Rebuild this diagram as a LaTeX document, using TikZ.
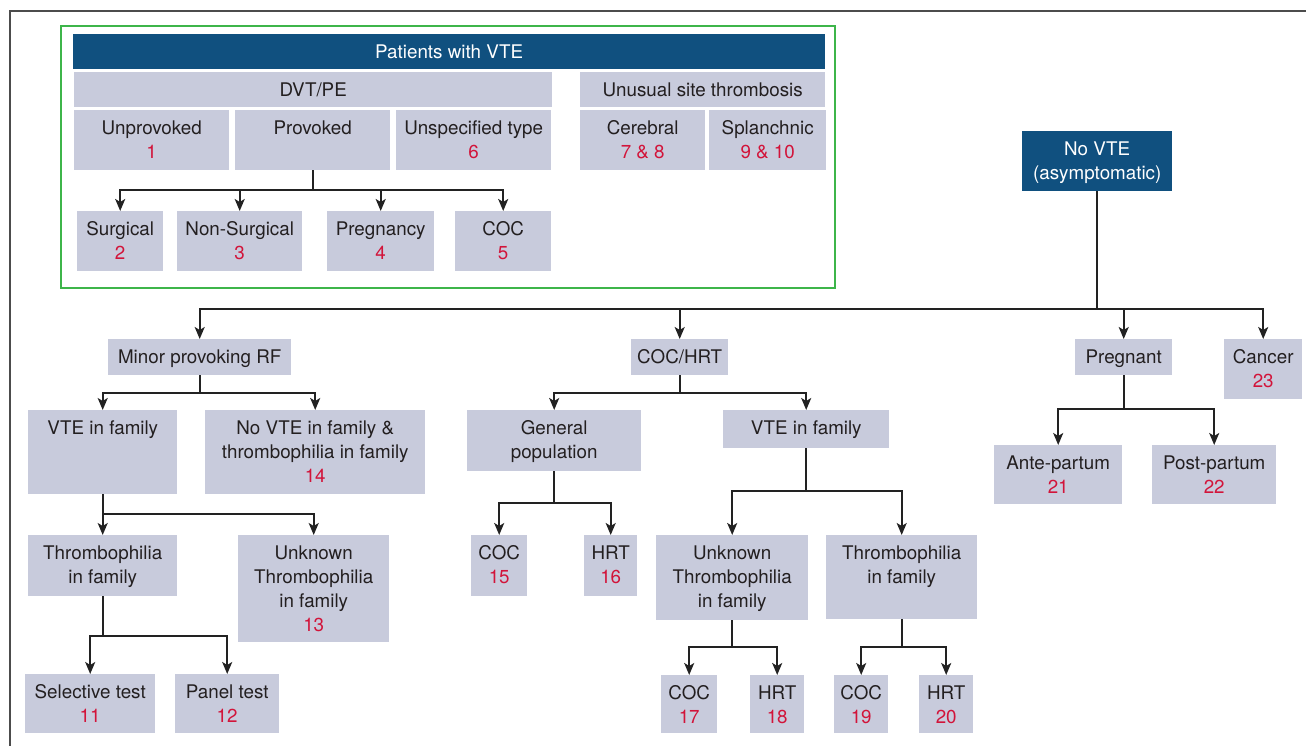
\documentclass[tikz,border=0pt]{standalone}
\usepackage{fontspec}
\setmainfont{TeX Gyre Heros}
\usetikzlibrary{arrows.meta}
\definecolor{navy}{HTML}{10507F}
\definecolor{boxfill}{HTML}{C8CBDC}
\definecolor{numred}{HTML}{D2143A}
\definecolor{frgreen}{HTML}{3DB54A}
\definecolor{txtdark}{HTML}{231F20}
\definecolor{linedark}{HTML}{222222}
\tikzset{
  boxs/.style={fill=boxfill, draw=none, inner sep=0pt, anchor=north west},
  navys/.style={fill=navy, draw=none, inner sep=0pt, anchor=north west},
  txts/.style={anchor=north, inner sep=0pt, align=center, text=txtdark,
    font=\fontsize{18.8}{24}\selectfont},
  wtxts/.style={txts, text=white},
  conn/.style={draw=linedark, line width=1.8pt},
  arr/.style={conn, -{Stealth[length=12pt, width=10pt, inset=3pt]}},
}
\newcommand\nm[1]{\textcolor{numred}{#1}}
% name, x, y, w, h, text
\newcommand\gbox[6]{%
  \node[boxs, minimum width=#4, minimum height=#5] (#1) at (#2,#3) {};
  \node[txts] (#1-t) at ([yshift=-7.2pt]#1.north) {\strut #6};}
\newcommand\nbox[6]{%
  \node[navys, minimum width=#4, minimum height=#5] (#1) at (#2,#3) {};
  \node[wtxts] (#1-t) at ([yshift=-7.2pt]#1.north) {\strut #6};}
\begin{document}
\begin{tikzpicture}[x=1pt, y=-1pt]
\useasboundingbox (0,0) rectangle (1306,746);
% outer partial frame
\draw[color=black!70, line width=1.3pt] (10,746) -- (10,11) -- (1306,11);
% green frame
\draw[frgreen, line width=2pt] (61,26) rectangle (835,288);
% top group
\nbox{hdr}{73}{34}{752}{35}{Patients with VTE}
\gbox{dvt}{74}{72}{478}{35}{DVT/PE}
\gbox{usite}{580}{72}{245}{35}{Unusual site thrombosis}
\gbox{unprov}{74}{110}{155}{60}{Unprovoked\\\nm{1}}
\gbox{prov}{235}{110}{155}{60}{Provoked}
\gbox{unspec}{396}{110}{155}{60}{Unspecified type\\\nm{6}}
\gbox{cereb}{580}{110}{125}{60}{Cerebral\\\nm{7 \& 8}}
\gbox{splan}{709}{110}{117}{60}{Splanchnic\\\nm{9 \& 10}}
\gbox{surg}{77}{211}{86}{60}{Surgical\\\nm{2}}
\gbox{nonsurg}{177}{211}{125}{60}{Non-Surgical\\\nm{3}}
\gbox{pregy}{327}{211}{107}{60}{Pregnancy\\\nm{4}}
\gbox{coc5}{455}{211}{96}{60}{COC\\\nm{5}}
% no VTE tree
\nbox{novte}{1022}{131}{150}{60}{No VTE\\(asymptomatic)}
\gbox{minor}{108}{339}{183}{36}{Minor provoking RF}
\gbox{cochrt}{631}{339}{97}{36}{COC/HRT}
\gbox{preg}{1075}{339}{97}{36}{Pregnant}
\gbox{cancer}{1224}{339}{78}{60}{Cancer\\\nm{23}}
\gbox{vtefama}{28}{410}{149}{84}{VTE in family}
\gbox{novtefam}{205}{410}{220}{84}{No VTE in family \&\\thrombophilia in family\\\nm{14}}
\gbox{genpop}{467}{410}{174}{61}{General\\population}
\gbox{vtefamb}{723}{410}{166}{38}{VTE in family}
\gbox{ante}{994}{445}{128}{59}{Ante-partum\\\nm{21}}
\gbox{post}{1152}{445}{124}{59}{Post-partum\\\nm{22}}
\gbox{thromba}{28}{535}{149}{61}{Thrombophilia\\in family}
\gbox{unka}{238}{535}{151}{107}{Unknown\\Thrombophilia\\in family\\\nm{13}}
\gbox{cocxv}{471}{535}{56}{61}{COC\\\nm{15}}
\gbox{hrtxvi}{584}{535}{53}{61}{HRT\\\nm{16}}
\gbox{unkb}{656}{535}{152}{85}{Unknown\\Thrombophilia\\in family}
\gbox{thrombb}{826}{535}{151}{84}{Thrombophilia\\in family}
\gbox{sel}{25}{674}{130}{59}{Selective test\\\nm{11}}
\gbox{panel}{175}{674}{104}{59}{Panel test\\\nm{12}}
\gbox{cocxvii}{661}{675}{56}{58}{COC\\\nm{17}}
\gbox{hrtxviii}{750}{675}{54}{58}{HRT\\\nm{18}}
\gbox{cocxix}{834}{675}{54}{58}{COC\\\nm{19}}
\gbox{hrtxx}{919}{675}{54}{58}{HRT\\\nm{20}}
% bus levels
\coordinate (bprov) at (0,190);
\coordinate (bnovte) at (0,309);
\coordinate (bminor) at (0,393);
\coordinate (bcoc) at (0,393);
\coordinate (bpreg) at (0,409);
\coordinate (bvtea) at (0,514);
\coordinate (bgen) at (0,503);
\coordinate (bvteb) at (0,491);
\coordinate (bthra) at (0,636);
\coordinate (bunkb) at (0,647);
\coordinate (bthrb) at (0,647);
% connectors
\foreach \c in {surg,nonsurg,pregy,coc5}
  \draw[arr] (prov.south) -- (prov.south |- bprov) -| (\c.north);
\foreach \c in {minor,cochrt,preg,cancer}
  \draw[arr] (novte.south) -- (novte.south |- bnovte) -| (\c.north);
\foreach \c in {vtefama,novtefam}
  \draw[arr] (minor.south) -- (minor.south |- bminor) -| (\c.north);
\foreach \c in {genpop,vtefamb}
  \draw[arr] (cochrt.south) -- (cochrt.south |- bcoc) -| (\c.north);
\foreach \c in {ante,post}
  \draw[arr] (preg.south) -- (preg.south |- bpreg) -| (\c.north);
\foreach \c in {thromba,unka}
  \draw[arr] (vtefama.south) -- (vtefama.south |- bvtea) -| (\c.north);
\foreach \c in {cocxv,hrtxvi}
  \draw[arr] (genpop.south) -- (genpop.south |- bgen) -| (\c.north);
\foreach \c in {unkb,thrombb}
  \draw[arr] (vtefamb.south) -- (vtefamb.south |- bvteb) -| (\c.north);
\foreach \c in {sel,panel}
  \draw[arr] (thromba.south) -- (thromba.south |- bthra) -| (\c.north);
\foreach \c in {cocxvii,hrtxviii}
  \draw[arr] (unkb.south) -- (unkb.south |- bunkb) -| (\c.north);
\foreach \c in {cocxix,hrtxx}
  \draw[arr] (thrombb.south) -- (thrombb.south |- bthrb) -| (\c.north);
\end{tikzpicture}
\end{document}
